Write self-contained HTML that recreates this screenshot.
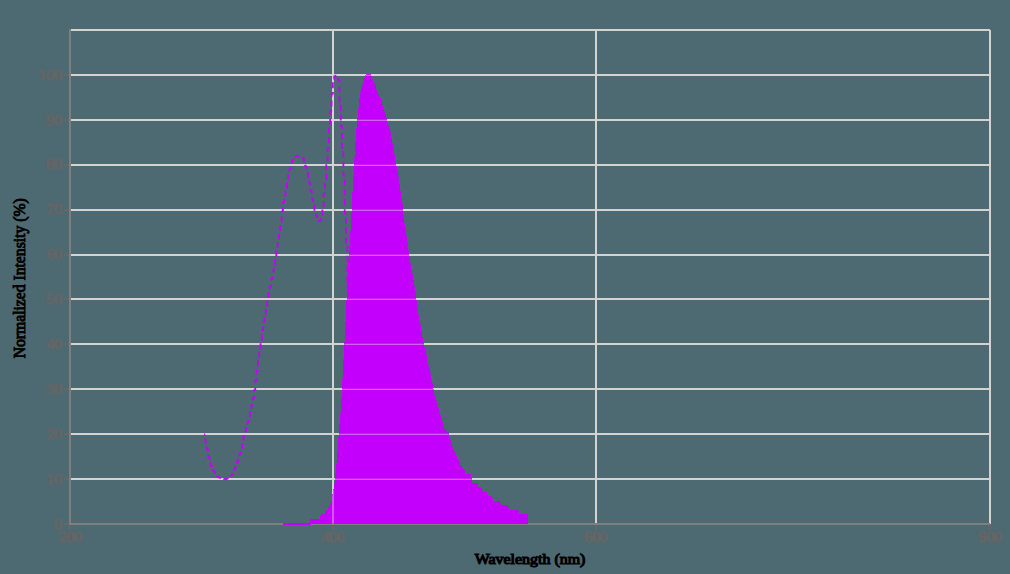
<!DOCTYPE html>
<html><head><meta charset="utf-8"><title>Spectrum</title>
<style>html,body{margin:0;padding:0;background:#4d6971;}body{width:1010px;height:574px;overflow:hidden;font-family:"Liberation Serif",serif;}</style>
</head><body>
<svg width="1010" height="574" viewBox="0 0 1010 574" style="display:block">
<rect width="1010" height="574" fill="#4d6971"/>
<g fill="#d3d3d2" shape-rendering="crispEdges">
<rect x="70" y="478" width="921" height="2"/>
<rect x="70" y="433" width="921" height="2"/>
<rect x="70" y="388" width="921" height="2"/>
<rect x="70" y="343" width="921" height="2"/>
<rect x="70" y="298" width="921" height="2"/>
<rect x="70" y="254" width="921" height="2"/>
<rect x="70" y="209" width="921" height="2"/>
<rect x="70" y="164" width="921" height="2"/>
<rect x="70" y="119" width="921" height="2"/>
<rect x="70" y="74" width="921" height="2"/>
<rect x="70" y="29" width="920" height="2"/>
<rect x="332" y="29" width="2" height="495"/>
<rect x="595" y="29" width="2" height="495"/>
<rect x="989" y="30" width="2" height="494"/>
</g>
<path d="M204.06,434.30H205.37V442.60H206.69V449.07H208.00V456.43H209.31V463.11H210.63V466.04H211.94V468.97H213.26V471.25H214.57V473.13H215.89V475.01H217.20V476.89H218.51V477.43H219.83V477.80H221.14V478.16H222.46V478.53H223.77V478.90H225.09V479.27H226.40V478.72H227.71V477.66H229.03V476.61H230.34V475.55H231.66V474.48H232.97V471.44H234.29V468.40H235.60V465.29H236.91V461.73H238.23V458.16H239.54V453.61H240.86V447.88H242.17V441.94H243.49V435.98H244.80V431.58H246.11V427.14H247.43V421.89H248.74V416.64H250.06V411.53H251.37V405.25H252.69V398.24H254.00V390.13H255.31V380.55H256.63V370.98H257.94V360.59H259.26V349.29H260.57V339.44H261.89V330.21H263.20V321.88H264.51V314.49H265.83V307.36H267.14V299.24H268.46V292.88H269.77V286.30H271.09V279.28H272.40V271.69H273.71V264.86H275.03V258.35H276.34V251.08H277.66V241.65H278.97V232.70H280.29V222.89H281.60V211.44H282.91V201.99H284.23V195.64H285.54V188.09H286.86V180.78H288.17V174.78H289.49V168.82H290.80V162.99H292.11V160.16H293.43V157.46H294.74V156.83H296.06V156.19H297.37V156.32H298.69V156.57H300.00V156.89H301.31V157.70H302.63V158.50H303.94V162.02H305.26V166.42H306.57V171.84H307.89V177.55H309.20V184.14H310.51V191.05H311.83V198.64H313.14V205.04H314.46V210.84H315.77V215.50H317.09V219.39H318.40V221.02H319.71V220.72H321.03V216.45H322.34V207.40H323.66V193.49H324.97V180.50H326.29V163.30H327.60V148.03H328.91V126.62H330.23V110.75H331.54V93.87H332.86V81.14H334.17V76.49H335.49V75.76H336.80V77.00H338.11V80.20H339.43V102.16H340.74V126.13H342.06V149.40H343.37V175.55H344.69V213.68H346.00V245.90H347.31V288.78H348.63V343.93H349.94V403.71H351.26V453.57H352.57V492.21H353.89V505.36" fill="none" stroke="#c300fb" stroke-width="1.8" stroke-dasharray="6,3.85" stroke-dashoffset="4.8" stroke-linejoin="round"/>
<g fill="#807f7f" shape-rendering="crispEdges">
<rect x="69" y="29" width="2" height="496"/>
<rect x="69" y="523" width="921" height="2"/>
</g>
<defs><clipPath id="c"><path d="M284.23,523.70L284.23,523.20L285.54,523.20L286.86,523.20L288.17,523.20L289.49,523.20L290.80,523.20L292.11,523.20L293.43,523.20L294.74,523.20L296.06,523.20L297.37,523.20L298.69,523.20L300.00,523.20L301.31,523.20L302.63,523.20L303.94,523.20L305.26,523.20L306.57,523.20L307.89,523.20L309.20,523.20L310.51,518.71L311.83,518.71L313.14,518.71L314.46,518.71L315.77,518.71L317.09,518.71L318.40,518.71L319.71,518.71L321.03,514.22L322.34,514.22L323.66,514.22L324.97,514.22L326.29,509.73L327.60,509.73L328.91,505.24L330.23,505.24L331.54,500.75L332.86,491.76L334.17,487.27L335.49,473.80L336.80,460.33L338.11,442.36L339.43,424.40L340.74,410.93L342.06,388.47L343.37,361.53L344.69,339.07L346.00,312.13L347.31,280.69L348.63,258.24L349.94,240.27L351.26,217.82L352.57,190.87L353.89,168.42L355.20,145.96L356.51,128.00L357.83,114.53L359.14,101.05L360.46,92.07L361.77,87.58L363.09,83.09L364.40,78.60L365.71,74.11L367.03,74.11L368.34,74.11L369.66,74.11L370.97,74.11L372.29,78.60L373.60,83.09L374.91,83.09L376.23,87.58L377.54,92.07L378.86,96.56L380.17,96.56L381.49,101.05L382.80,105.55L384.11,110.04L385.43,114.53L386.74,119.02L388.06,123.51L389.37,128.00L390.69,132.49L392.00,141.47L393.31,145.96L394.63,154.95L395.94,163.93L397.26,168.42L398.57,177.40L399.89,186.38L401.20,195.36L402.51,204.35L403.83,217.82L405.14,226.80L406.46,235.78L407.77,244.76L409.09,253.75L410.40,262.73L411.71,271.71L413.03,276.20L414.34,285.18L415.66,294.16L416.97,303.15L418.29,312.13L419.60,321.11L420.91,325.60L422.23,334.58L423.54,343.56L424.86,348.05L426.17,352.55L427.49,361.53L428.80,366.02L430.11,370.51L431.43,379.49L432.74,383.98L434.06,392.96L435.37,397.45L436.69,401.95L438.00,406.44L439.31,410.93L440.63,415.42L441.94,419.91L443.26,424.40L444.57,428.89L445.89,428.89L447.20,433.38L448.51,433.38L449.83,437.87L451.14,442.36L452.46,446.85L453.77,451.35L455.09,451.35L456.40,455.84L457.71,460.33L459.03,460.33L460.34,464.82L461.66,464.82L462.97,469.31L464.29,469.31L465.60,473.80L466.91,473.80L468.23,473.80L469.54,473.80L470.86,473.80L472.17,482.78L473.49,482.78L474.80,482.78L476.11,482.78L477.43,482.78L478.74,487.27L480.06,487.27L481.37,487.27L482.69,491.76L484.00,491.76L485.31,491.76L486.63,491.76L487.94,496.25L489.26,496.25L490.57,496.25L491.89,496.25L493.20,500.75L494.51,500.75L495.83,500.75L497.14,500.75L498.46,500.75L499.77,500.75L501.09,505.24L502.40,505.24L503.71,505.24L505.03,505.24L506.34,505.24L507.66,505.24L508.97,509.73L510.29,509.73L511.60,509.73L512.91,509.73L514.23,509.73L515.54,509.73L516.86,509.73L518.17,509.73L519.49,514.22L520.80,514.22L522.11,514.22L523.43,514.22L524.74,514.22L526.06,514.22L527.37,514.22L528.0,514.22L528.0,523.70Z"/></clipPath></defs>
<path d="M284.23,523.70L284.23,523.20L285.54,523.20L286.86,523.20L288.17,523.20L289.49,523.20L290.80,523.20L292.11,523.20L293.43,523.20L294.74,523.20L296.06,523.20L297.37,523.20L298.69,523.20L300.00,523.20L301.31,523.20L302.63,523.20L303.94,523.20L305.26,523.20L306.57,523.20L307.89,523.20L309.20,523.20L310.51,518.71L311.83,518.71L313.14,518.71L314.46,518.71L315.77,518.71L317.09,518.71L318.40,518.71L319.71,518.71L321.03,514.22L322.34,514.22L323.66,514.22L324.97,514.22L326.29,509.73L327.60,509.73L328.91,505.24L330.23,505.24L331.54,500.75L332.86,491.76L334.17,487.27L335.49,473.80L336.80,460.33L338.11,442.36L339.43,424.40L340.74,410.93L342.06,388.47L343.37,361.53L344.69,339.07L346.00,312.13L347.31,280.69L348.63,258.24L349.94,240.27L351.26,217.82L352.57,190.87L353.89,168.42L355.20,145.96L356.51,128.00L357.83,114.53L359.14,101.05L360.46,92.07L361.77,87.58L363.09,83.09L364.40,78.60L365.71,74.11L367.03,74.11L368.34,74.11L369.66,74.11L370.97,74.11L372.29,78.60L373.60,83.09L374.91,83.09L376.23,87.58L377.54,92.07L378.86,96.56L380.17,96.56L381.49,101.05L382.80,105.55L384.11,110.04L385.43,114.53L386.74,119.02L388.06,123.51L389.37,128.00L390.69,132.49L392.00,141.47L393.31,145.96L394.63,154.95L395.94,163.93L397.26,168.42L398.57,177.40L399.89,186.38L401.20,195.36L402.51,204.35L403.83,217.82L405.14,226.80L406.46,235.78L407.77,244.76L409.09,253.75L410.40,262.73L411.71,271.71L413.03,276.20L414.34,285.18L415.66,294.16L416.97,303.15L418.29,312.13L419.60,321.11L420.91,325.60L422.23,334.58L423.54,343.56L424.86,348.05L426.17,352.55L427.49,361.53L428.80,366.02L430.11,370.51L431.43,379.49L432.74,383.98L434.06,392.96L435.37,397.45L436.69,401.95L438.00,406.44L439.31,410.93L440.63,415.42L441.94,419.91L443.26,424.40L444.57,428.89L445.89,428.89L447.20,433.38L448.51,433.38L449.83,437.87L451.14,442.36L452.46,446.85L453.77,451.35L455.09,451.35L456.40,455.84L457.71,460.33L459.03,460.33L460.34,464.82L461.66,464.82L462.97,469.31L464.29,469.31L465.60,473.80L466.91,473.80L468.23,473.80L469.54,473.80L470.86,473.80L472.17,482.78L473.49,482.78L474.80,482.78L476.11,482.78L477.43,482.78L478.74,487.27L480.06,487.27L481.37,487.27L482.69,491.76L484.00,491.76L485.31,491.76L486.63,491.76L487.94,496.25L489.26,496.25L490.57,496.25L491.89,496.25L493.20,500.75L494.51,500.75L495.83,500.75L497.14,500.75L498.46,500.75L499.77,500.75L501.09,505.24L502.40,505.24L503.71,505.24L505.03,505.24L506.34,505.24L507.66,505.24L508.97,509.73L510.29,509.73L511.60,509.73L512.91,509.73L514.23,509.73L515.54,509.73L516.86,509.73L518.17,509.73L519.49,514.22L520.80,514.22L522.11,514.22L523.43,514.22L524.74,514.22L526.06,514.22L527.37,514.22L528.0,514.22L528.0,523.70Z" fill="#c300fb" shape-rendering="crispEdges"/>
<rect x="283" y="523" width="28" height="2" fill="#c300fb" shape-rendering="crispEdges"/>
<g clip-path="url(#c)" fill="#e6e0e6" shape-rendering="crispEdges">
<rect x="70" y="478" width="921" height="1" fill-opacity="0.14"/>
<rect x="70" y="479" width="921" height="1" fill-opacity="0.42"/>
<rect x="70" y="433" width="921" height="1" fill-opacity="0.14"/>
<rect x="70" y="434" width="921" height="1" fill-opacity="0.42"/>
<rect x="70" y="388" width="921" height="1" fill-opacity="0.14"/>
<rect x="70" y="389" width="921" height="1" fill-opacity="0.42"/>
<rect x="70" y="343" width="921" height="1" fill-opacity="0.14"/>
<rect x="70" y="344" width="921" height="1" fill-opacity="0.42"/>
<rect x="70" y="298" width="921" height="1" fill-opacity="0.14"/>
<rect x="70" y="299" width="921" height="1" fill-opacity="0.42"/>
<rect x="70" y="254" width="921" height="1" fill-opacity="0.14"/>
<rect x="70" y="255" width="921" height="1" fill-opacity="0.42"/>
<rect x="70" y="209" width="921" height="1" fill-opacity="0.14"/>
<rect x="70" y="210" width="921" height="1" fill-opacity="0.42"/>
<rect x="70" y="164" width="921" height="1" fill-opacity="0.14"/>
<rect x="70" y="165" width="921" height="1" fill-opacity="0.42"/>
<rect x="70" y="119" width="921" height="1" fill-opacity="0.14"/>
<rect x="70" y="120" width="921" height="1" fill-opacity="0.42"/>
<rect x="70" y="74" width="921" height="1" fill-opacity="0.14"/>
<rect x="70" y="75" width="921" height="1" fill-opacity="0.42"/>
<rect x="70" y="29" width="921" height="1" fill-opacity="0.14"/>
<rect x="70" y="30" width="921" height="1" fill-opacity="0.42"/>
<rect x="332" y="29" width="2" height="495" fill-opacity="0.4"/>
</g>
<g fill="#676666" shape-rendering="crispEdges">
<rect x="64" y="523" width="5" height="2"/>
<rect x="64" y="478" width="5" height="2"/>
<rect x="64" y="433" width="5" height="2"/>
<rect x="64" y="388" width="5" height="2"/>
<rect x="64" y="343" width="5" height="2"/>
<rect x="64" y="298" width="5" height="2"/>
<rect x="64" y="254" width="5" height="2"/>
<rect x="64" y="209" width="5" height="2"/>
<rect x="64" y="164" width="5" height="2"/>
<rect x="64" y="119" width="5" height="2"/>
<rect x="64" y="74" width="5" height="2"/>
<rect x="69" y="525" width="2" height="5"/>
<rect x="332" y="525" width="2" height="5"/>
<rect x="595" y="525" width="2" height="5"/>
<rect x="989" y="525" width="2" height="5"/>
</g>
<g font-family="'Liberation Serif', serif" font-size="15px" fill="#666565" stroke="#666565" stroke-width="0.9" letter-spacing="-0.6">
<text transform="translate(61.5,528.70) scale(1.12,1)" text-anchor="end">0</text>
<text transform="translate(61.5,483.79) scale(1.12,1)" text-anchor="end">10</text>
<text transform="translate(61.5,438.88) scale(1.12,1)" text-anchor="end">20</text>
<text transform="translate(61.5,393.97) scale(1.12,1)" text-anchor="end">30</text>
<text transform="translate(61.5,349.06) scale(1.12,1)" text-anchor="end">40</text>
<text transform="translate(61.5,304.15) scale(1.12,1)" text-anchor="end">50</text>
<text transform="translate(61.5,259.25) scale(1.12,1)" text-anchor="end">60</text>
<text transform="translate(61.5,214.34) scale(1.12,1)" text-anchor="end">70</text>
<text transform="translate(61.5,169.43) scale(1.12,1)" text-anchor="end">80</text>
<text transform="translate(61.5,124.52) scale(1.12,1)" text-anchor="end">90</text>
<text transform="translate(61.5,79.61) scale(1.12,1)" text-anchor="end">100</text>
<text transform="translate(69.8,542.15) scale(1.12,1)" text-anchor="middle">200</text>
<text transform="translate(332.7,542.15) scale(1.12,1)" text-anchor="middle">400</text>
<text transform="translate(595.5,542.15) scale(1.12,1)" text-anchor="middle">600</text>
<text transform="translate(989.8,542.15) scale(1.12,1)" text-anchor="middle">900</text>
</g>
<g font-family="'Liberation Serif', serif" fill="#000" stroke="#000">
<text x="474.65" y="564.05" font-size="14.5px" stroke-width="1.1" textLength="110.8" lengthAdjust="spacingAndGlyphs">Wavelength (nm)</text>
<text transform="translate(24.9,358.35) rotate(-90)" font-size="16.6px" stroke-width="0.9" textLength="160" lengthAdjust="spacingAndGlyphs">Normalized Intensity (%)</text>
</g>
</svg>
</body></html>
